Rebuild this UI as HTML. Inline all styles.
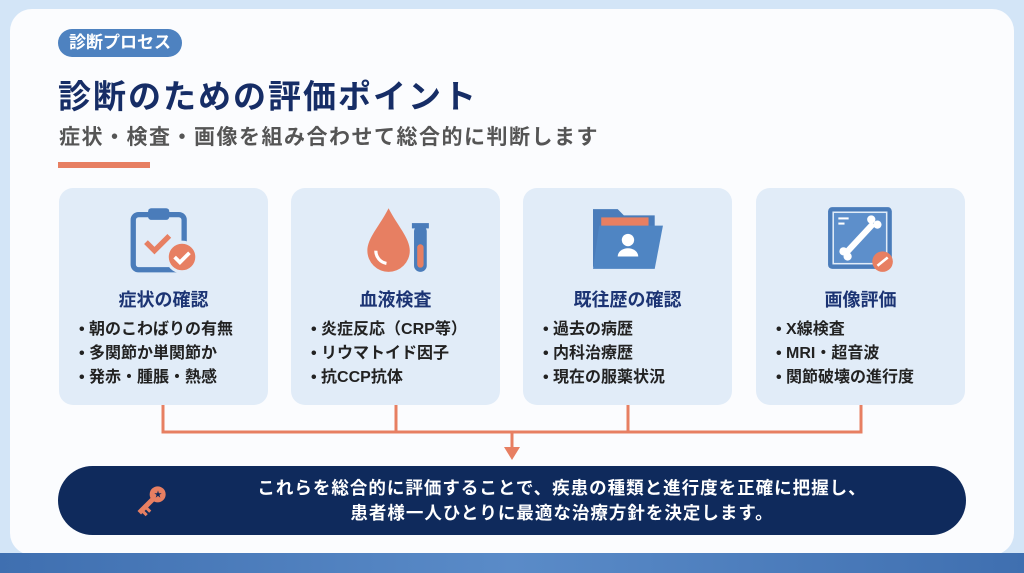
<!DOCTYPE html>
<html><head><meta charset="utf-8"><style>
*{margin:0;padding:0;box-sizing:border-box}
body{width:1024px;height:573px;overflow:hidden;background:#d3e5f7;font-family:"Liberation Sans","Noto Sans CJK JP",sans-serif;position:relative}
.main{position:absolute;left:10px;top:9px;width:1004px;height:546px;background:#fbfcfe;border-radius:22px}
.band{position:absolute;left:0;top:553px;width:1024px;height:20px;background:linear-gradient(90deg,#3f6fb0,#5a8bc8,#3f6fb0)}
.tag{position:absolute;left:58px;top:29px;width:124px;height:28px;border-radius:14px;background:#4e82c0;color:#fff;font-weight:bold;font-size:17px;line-height:28px;text-align:center}
h1{position:absolute;left:58px;top:70px;font-size:33px;color:#162d66;font-weight:bold;letter-spacing:2px}
.sub{position:absolute;left:59px;top:121px;font-size:21px;color:#555;font-weight:bold;letter-spacing:1.5px}
.line{position:absolute;left:58px;top:162px;width:92px;height:6px;background:#e77f62}
.card{position:absolute;top:188px;width:209px;height:217px;background:#e1ecf8;border-radius:14px}
.card h3{position:absolute;top:98px;width:100%;text-align:center;font-size:18px;color:#1c3474;font-weight:bold}
.card ul{position:absolute;top:130px;left:20px;list-style:none;font-size:16px;font-weight:bold;color:#222;line-height:24px}
.card svg{position:absolute;left:70px;top:16px}
.pill{position:absolute;left:58px;top:466px;width:908px;height:69px;background:#0f2a5c;border-radius:35px;color:#fff;font-weight:bold;font-size:17.5px;text-align:center;line-height:25px;padding-top:10px;padding-left:100px;letter-spacing:1px}
</style></head><body>
<div class="main"></div>
<div class="band"></div>
<div class="tag">診断プロセス</div>
<h1>診断のための評価ポイント</h1>
<div class="sub">症状・検査・画像を組み合わせて総合的に判断します</div>
<div class="line"></div>

<div class="card" style="left:59px">
<svg width="70" height="70" viewBox="0 0 66 66"><rect x="4" y="10" width="48" height="52" rx="5" fill="none" stroke="#4a7cba" stroke-width="5"/><rect x="18" y="4" width="20" height="11" rx="3" fill="#4a7cba"/><path d="M16 36 l8 8 l14 -14" fill="none" stroke="#e77f62" stroke-width="5"/><circle cx="50" cy="50" r="14" fill="#e77f62" stroke="#e1ecf8" stroke-width="3"/><path d="M43 50 l5 5 l9 -9" fill="none" stroke="#fff" stroke-width="3.5"/></svg>
<h3>症状の確認</h3><ul><li>• 朝のこわばりの有無</li><li>• 多関節か単関節か</li><li>• 発赤・腫脹・熱感</li></ul></div>

<div class="card" style="left:291px">
<svg width="70" height="70" viewBox="0 0 66 66"><path d="M26 4 C18 20 6 32 6 44 a20 20 0 0 0 40 0 C46 32 34 20 26 4z" fill="#e77f62"/><path d="M14 44 a12 12 0 0 0 10 12" fill="none" stroke="#fff" stroke-width="3"/><rect x="50" y="20" width="12" height="44" rx="6" fill="#4a7cba"/><rect x="53" y="38" width="6" height="22" rx="3" fill="#e77f62"/><rect x="48" y="18" width="16" height="5" fill="#4a7cba"/></svg>
<h3>血液検査</h3><ul><li>• 炎症反応（CRP等）</li><li>• リウマトイド因子</li><li>• 抗CCP抗体</li></ul></div>

<div class="card" style="left:523px">
<svg width="72" height="70" viewBox="0 0 70 66"><path d="M0 4 h24 l6 6 h30 v50 h-60z" fill="#4a7cba"/><rect x="8" y="12" width="46" height="10" fill="#e77f62"/><path d="M6 20 h62 l-8 42 h-60z" fill="#4f85c3"/><circle cx="34" cy="34" r="6" fill="#fff"/><path d="M24 50 a10 8 0 0 1 20 0z" fill="#fff"/></svg>
<h3>既往歴の確認</h3><ul><li>• 過去の病歴</li><li>• 内科治療歴</li><li>• 現在の服薬状況</li></ul></div>

<div class="card" style="left:756px">
<svg width="72" height="70" viewBox="0 0 70 66"><rect x="2" y="2" width="62" height="60" rx="4" fill="#4a7cba"/><rect x="7" y="7" width="52" height="50" fill="#5d8fcb" stroke="#e1ecf8" stroke-width="1.5"/><rect x="12" y="12" width="10" height="2" fill="#fff"/><rect x="12" y="17" width="6" height="2" fill="#fff"/><path d="M20 46 L46 18" stroke="#fff" stroke-width="6"/><circle cx="17" cy="45" r="4" fill="#fff"/><circle cx="21" cy="50" r="4" fill="#fff"/><circle cx="44" cy="14" r="4" fill="#fff"/><circle cx="50" cy="19" r="4" fill="#fff"/><circle cx="55" cy="55" r="10" fill="#e77f62"/><path d="M50 59 l10 -8" stroke="#fff" stroke-width="2.5"/></svg>
<h3>画像評価</h3><ul><li>• X線検査</li><li>• MRI・超音波</li><li>• 関節破壊の進行度</li></ul></div>

<svg style="position:absolute;left:0;top:0" width="1024" height="573">
<g stroke="#e77f62" stroke-width="3" fill="none"><path d="M163 405 V432 H861 V405 M396 405 V432 M628 405 V432 M512 432 V450"/></g>
<path d="M504 447 L520 447 L512 460z" fill="#e77f62"/>
</svg>
<div class="pill">これらを総合的に評価することで、疾患の種類と進行度を正確に把握し、<br>患者様一人ひとりに最適な治療方針を決定します。</div>
<svg style="position:absolute;left:0;top:0" width="1024" height="573">
<g transform="translate(152,500) rotate(45)"><circle cx="0" cy="-8" r="8" fill="#e77f62"/><rect x="-2.5" y="-2" width="5" height="20" fill="#e77f62"/><rect x="2" y="8" width="5" height="3" fill="#e77f62"/><rect x="2" y="13" width="5" height="3" fill="#e77f62"/></g>
<text x="158" y="497" font-size="8" fill="#0f2a5c" text-anchor="middle">★</text>
</svg>
</body></html>
